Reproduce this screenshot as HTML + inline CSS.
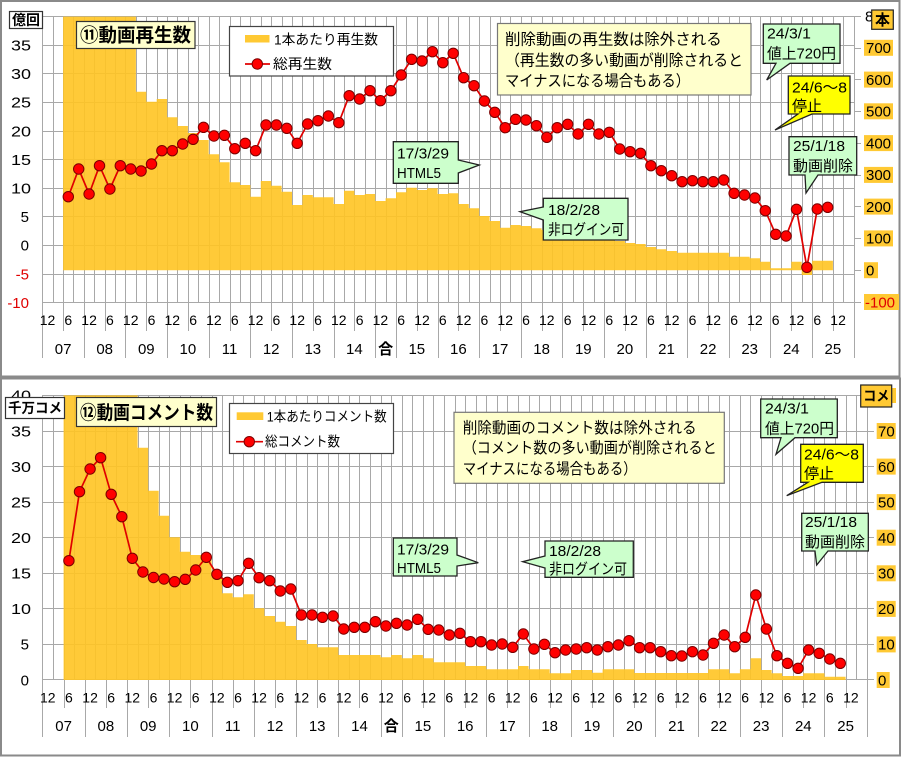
<!DOCTYPE html>
<html><head><meta charset="utf-8"><style>
html,body{margin:0;padding:0;background:#fff;}
svg{display:block;}
text{font-family:"Liberation Sans","Noto Sans CJK JP",sans-serif;}
</style></head><body>
<svg width="902" height="758" viewBox="0 0 902 758" xmlns="http://www.w3.org/2000/svg">
<defs>
<marker id="dot" markerWidth="14" markerHeight="14" refX="7" refY="7" markerUnits="userSpaceOnUse">
<circle cx="7" cy="7" r="5.2" fill="#ff0000" stroke="#7a0000" stroke-width="1"/>
</marker>
</defs>
<rect width="902" height="758" fill="#fff"/>

<!-- ================= TOP CHART ================= -->
<rect x="1" y="1" width="898.5" height="375.5" fill="#fff" stroke="#8a8a8a" stroke-width="2"/>

<!-- gridlines -->
<path fill="none" stroke="#a8a8a8" stroke-width="1" d="M42.5 16.5V302.5M53.5 16.5V302.5M63.5 16.5V302.5M73.5 16.5V302.5M84.5 16.5V302.5M94.5 16.5V302.5M105.5 16.5V302.5M115.5 16.5V302.5M125.5 16.5V302.5M136.5 16.5V302.5M146.5 16.5V302.5M157.5 16.5V302.5M167.5 16.5V302.5M177.5 16.5V302.5M188.5 16.5V302.5M198.5 16.5V302.5M209.5 16.5V302.5M219.5 16.5V302.5M230.5 16.5V302.5M240.5 16.5V302.5M250.5 16.5V302.5M261.5 16.5V302.5M271.5 16.5V302.5M282.5 16.5V302.5M292.5 16.5V302.5M302.5 16.5V302.5M313.5 16.5V302.5M323.5 16.5V302.5M334.5 16.5V302.5M344.5 16.5V302.5M354.5 16.5V302.5M365.5 16.5V302.5M375.5 16.5V302.5M386.5 16.5V302.5M396.5 16.5V302.5M406.5 16.5V302.5M417.5 16.5V302.5M427.5 16.5V302.5M438.5 16.5V302.5M448.5 16.5V302.5M458.5 16.5V302.5M469.5 16.5V302.5M479.5 16.5V302.5M490.5 16.5V302.5M500.5 16.5V302.5M510.5 16.5V302.5M521.5 16.5V302.5M531.5 16.5V302.5M542.5 16.5V302.5M552.5 16.5V302.5M562.5 16.5V302.5M573.5 16.5V302.5M583.5 16.5V302.5M594.5 16.5V302.5M604.5 16.5V302.5M614.5 16.5V302.5M625.5 16.5V302.5M635.5 16.5V302.5M646.5 16.5V302.5M656.5 16.5V302.5M666.5 16.5V302.5M677.5 16.5V302.5M687.5 16.5V302.5M698.5 16.5V302.5M708.5 16.5V302.5M718.5 16.5V302.5M729.5 16.5V302.5M739.5 16.5V302.5M750.5 16.5V302.5M760.5 16.5V302.5M770.5 16.5V302.5M781.5 16.5V302.5M791.5 16.5V302.5M802.5 16.5V302.5M812.5 16.5V302.5M822.5 16.5V302.5M833.5 16.5V302.5M843.5 16.5V302.5M854.5 16.5V302.5
M42 16.5H855M42 45.5H855M42 73.5H855M42 102.5H855M42 131.5H855M42 159.5H855M42 188.5H855M42 216.5H855M42 245.5H855M42 274.5H855M42 302.5H855
M854 16.5H861M854 48.5H861M854 79.5H861M854 111.5H861M854 143.5H861M854 175.5H861M854 206.5H861M854 238.5H861M854 270.5H861M854 302.5H861
M42.5 302.5V331M63.5 302.5V331M84.5 302.5V331M105.5 302.5V331M125.5 302.5V331M146.5 302.5V331M167.5 302.5V331M188.5 302.5V331M209.5 302.5V331M230.5 302.5V331M250.5 302.5V331M271.5 302.5V331M292.5 302.5V331M313.5 302.5V331M334.5 302.5V331M354.5 302.5V331M375.5 302.5V331M396.5 302.5V331M417.5 302.5V331M438.5 302.5V331M458.5 302.5V331M479.5 302.5V331M500.5 302.5V331M521.5 302.5V331M542.5 302.5V331M562.5 302.5V331M583.5 302.5V331M604.5 302.5V331M625.5 302.5V331M646.5 302.5V331M666.5 302.5V331M687.5 302.5V331M708.5 302.5V331M729.5 302.5V331M750.5 302.5V331M770.5 302.5V331M791.5 302.5V331M812.5 302.5V331M833.5 302.5V331M854.5 302.5V331
M42.5 331V358M84.5 331V358M125.5 331V358M167.5 331V358M209.5 331V358M250.5 331V358M292.5 331V358M334.5 331V358M375.5 331V358M396.5 331V358M438.5 331V358M479.5 331V358M521.5 331V358M562.5 331V358M604.5 331V358M646.5 331V358M687.5 331V358M729.5 331V358M770.5 331V358M812.5 331V358M854.5 331V358"/>

<!-- bars -->
<path fill="#ffc422" fill-opacity="0.9" d="M63.1 270.2V16.6H135.9V91.7H146.3V101.7H156.7V99H167.1V117.3H177.5V126H187.9V133H198.3V140H208.7V154.3H219.2V162.3H229.6V182.3H240V185H250.4V196.7H260.8V181H271.2V185.7H281.6V191.7H292V205H302.4V195H312.8V197.3H323.2V197.3H333.6V204H344V190.7H354.4V195H364.8V194H375.2V201H385.6V198.3H396V192.3H406.4V187.7H416.8V190H427.2V188.3H437.6V194H448V193.3H458.4V204H468.8V208.3H479.2V216H489.6V221H500V227.7H510.4V225H520.8V226H531.2V228.3H541.6V230H552V231H562.5V232H572.9V233H583.3V235H593.7V237H604.1V240H614.5V241H624.9V243H635.3V244H645.7V247H656.1V249.3H666.5V251H676.9V252.7H728.9V256.7H749.7V258.3H760.1V261.7H770.5V268.3H791.3V261.7H801.7V275H812.1V260.7H832.9V270.2Z"/>

<!-- line -->
<polyline fill="none" stroke="#e00000" stroke-width="1.7" marker-start="url(#dot)" marker-mid="url(#dot)" marker-end="url(#dot)" points="68.3,196.7 78.7,169 89.1,194 99.5,165.7 109.9,189 120.3,165.7 130.7,169 141.1,171 151.5,164 161.9,150.7 172.3,150.7 182.7,144 193.1,139.3 203.5,127.3 213.9,136 224.4,135.3 234.8,148.7 245.2,143.3 255.6,150.7 266,125 276.4,125 286.8,128.3 297.2,143.3 307.6,124 318,120.7 328.4,116 338.8,122.7 349.2,95.7 359.6,99 370,90.7 380.4,100.7 390.8,90.7 401.2,75 411.6,59.3 422,61 432.4,51.7 442.8,62.7 453.2,53.3 463.6,77.7 474,85.7 484.4,101 494.8,112.3 505.2,127.7 515.6,119.3 526,120 536.4,125.7 546.8,137.3 557.2,127.7 567.7,124.3 578.1,134 588.5,124.3 598.9,134 609.3,132.3 619.7,149 630.1,151.7 640.5,153.3 650.9,165.7 661.3,170.7 671.7,175.7 682.1,181.7 692.5,180.7 702.9,181.7 713.3,181.7 723.7,180 734.1,193.3 744.5,195 754.9,198 765.3,210.7 775.7,234.3 786.1,236 796.5,209.3 806.9,267.3 817.3,209 827.7,207.3"/>

<!-- left axis labels -->
<g font-size="15" text-anchor="end" fill="#000">
<text x="31" y="50.5" textLength="20" lengthAdjust="spacingAndGlyphs">35</text>
<text x="31" y="79.1" textLength="20" lengthAdjust="spacingAndGlyphs">30</text>
<text x="31" y="107.7" textLength="20" lengthAdjust="spacingAndGlyphs">25</text>
<text x="31" y="136.3" textLength="20" lengthAdjust="spacingAndGlyphs">20</text>
<text x="31" y="164.9" textLength="20" lengthAdjust="spacingAndGlyphs">15</text>
<text x="31" y="193.5" textLength="20" lengthAdjust="spacingAndGlyphs">10</text>
<text x="29" y="222.1">5</text>
<text x="29" y="250.7">0</text>
<text x="29" y="279.3" fill="#e00000">-5</text>
<text x="29" y="307.9" fill="#e00000">-10</text>
</g>

<!-- right axis labels -->
<g fill="#ffc933">
<rect x="864" y="39.8" width="29" height="16"/>
<rect x="864" y="71.6" width="29" height="16"/>
<rect x="864" y="103.3" width="29" height="16"/>
<rect x="864" y="135.1" width="29" height="16"/>
<rect x="864" y="166.9" width="29" height="16"/>
<rect x="864" y="198.6" width="29" height="16"/>
<rect x="864" y="230.4" width="29" height="16"/>
<rect x="864" y="262.2" width="14" height="16"/>
<rect x="864" y="294" width="35" height="16"/>
</g>
<g font-size="15" fill="#000">
<text x="865" y="21.5">8</text>
<text x="866" y="53.1">700</text>
<text x="866" y="84.9">600</text>
<text x="866" y="116.6">500</text>
<text x="866" y="148.4">400</text>
<text x="866" y="180.2">300</text>
<text x="866" y="211.9">200</text>
<text x="866" y="243.7">100</text>
<text x="866" y="275.5">0</text>
<text x="865" y="307.3" fill="#e00000">-100</text>
</g>
<rect x="871.7" y="10" width="21.6" height="19.3" fill="#ffc933" stroke="#222" stroke-width="1.2"/>
<text x="882.5" y="25" font-size="15" font-weight="bold" text-anchor="middle">本</text>

<!-- x axis labels -->
<g font-size="14" text-anchor="middle" fill="#000">
<text x="47.5" y="325">12</text><text x="68.3" y="325">6</text><text x="89.1" y="325">12</text><text x="109.9" y="325">6</text><text x="130.7" y="325">12</text><text x="151.5" y="325">6</text><text x="172.3" y="325">12</text><text x="193.1" y="325">6</text><text x="213.9" y="325">12</text><text x="234.8" y="325">6</text><text x="255.6" y="325">12</text><text x="276.4" y="325">6</text><text x="297.2" y="325">12</text><text x="318" y="325">6</text><text x="338.8" y="325">12</text><text x="359.6" y="325">6</text><text x="380.4" y="325">12</text><text x="401.2" y="325">6</text><text x="422" y="325">12</text><text x="442.8" y="325">6</text><text x="463.6" y="325">12</text><text x="484.4" y="325">6</text><text x="505.2" y="325">12</text><text x="526" y="325">6</text><text x="546.8" y="325">12</text><text x="567.7" y="325">6</text><text x="588.5" y="325">12</text><text x="609.3" y="325">6</text><text x="630.1" y="325">12</text><text x="650.9" y="325">6</text><text x="671.7" y="325">12</text><text x="692.5" y="325">6</text><text x="713.3" y="325">12</text><text x="734.1" y="325">6</text><text x="754.9" y="325">12</text><text x="775.7" y="325">6</text><text x="796.5" y="325">12</text><text x="817.3" y="325">6</text><text x="838.1" y="325">12</text>
</g>
<g font-size="15" text-anchor="middle" fill="#000">
<text x="63.1" y="354">07</text><text x="104.7" y="354">08</text><text x="146.3" y="354">09</text><text x="187.9" y="354">10</text><text x="229.6" y="354">11</text><text x="271.2" y="354">12</text><text x="312.8" y="354">13</text><text x="354.4" y="354">14</text><text x="385.6" y="354" font-weight="bold">合</text><text x="416.8" y="354">15</text><text x="458.4" y="354">16</text><text x="500" y="354">17</text><text x="541.6" y="354">18</text><text x="583.3" y="354">19</text><text x="624.9" y="354">20</text><text x="666.5" y="354">21</text><text x="708.1" y="354">22</text><text x="749.7" y="354">23</text><text x="791.3" y="354">24</text><text x="832.9" y="354">25</text>
</g>

<!-- unit box -->
<rect x="9.5" y="11.5" width="33" height="17" fill="#fff" stroke="#333" stroke-width="1.2"/>
<text x="26" y="25" font-size="14" font-weight="bold" text-anchor="middle" textLength="28" lengthAdjust="spacingAndGlyphs">億回</text>

<!-- title -->
<rect x="76.5" y="21.5" width="118.5" height="27" fill="#ffffcc" stroke="#333" stroke-width="1.2"/>
<text x="80" y="41.5" font-size="19" font-weight="bold" textLength="111" lengthAdjust="spacingAndGlyphs">⑪動画再生数</text>

<!-- legend -->
<rect x="229.5" y="26.5" width="164" height="49.5" fill="#fff" stroke="#444" stroke-width="1.2"/>
<rect x="245" y="35" width="24.5" height="7.5" fill="#ffc933"/>
<text x="274" y="44.5" font-size="14" textLength="104" lengthAdjust="spacingAndGlyphs">1本あたり再生数</text>
<line x1="245" y1="64" x2="270" y2="64" stroke="#e00000" stroke-width="1.7"/>
<circle cx="257.3" cy="64" r="5.2" fill="#ff0000" stroke="#7a0000" stroke-width="1"/>
<text x="273" y="69" font-size="14" textLength="59" lengthAdjust="spacingAndGlyphs">総再生数</text>

<!-- note -->
<rect x="497.5" y="23.5" width="253.5" height="71.5" fill="#ffffcc" stroke="#777" stroke-width="1.2"/>
<g font-size="15.5" fill="#000">
<text x="505" y="44.5" textLength="216.7" lengthAdjust="spacingAndGlyphs">削除動画の再生数は除外される</text>
<text x="505" y="65.5" textLength="238" lengthAdjust="spacingAndGlyphs">（再生数の多い動画が削除されると</text>
<text x="505" y="86" textLength="185" lengthAdjust="spacingAndGlyphs">マイナスになる場合もある）</text>
</g>

<!-- callouts top -->
<g stroke="#222" stroke-width="1.3">
<path fill="#ccffcc" d="M763.3 24H840V63.3H790L766.7 80L776 63.3H763.3Z"/>
<path fill="#ffff00" d="M788.3 76H850V114H812L775 130L798 114H788.3Z"/>
<path fill="#ccffcc" d="M789 136.7H856.7V175H818L806 193L805 175H789Z"/>
<path fill="#ccffcc" d="M393.3 141.7H458.3V160L479.3 165L458.3 173V183.3H393.3Z"/>
<path fill="#ccffcc" d="M543.3 198.3H628V240H543.3V220L520 211.7L543.3 207Z"/>
</g>
<g font-size="15" fill="#000">
<text x="767" y="38.5" textLength="44" lengthAdjust="spacingAndGlyphs">24/3/1</text>
<text x="767" y="58.5" textLength="69" lengthAdjust="spacingAndGlyphs">値上720円</text>
<text x="792" y="92.5" textLength="55" lengthAdjust="spacingAndGlyphs">24/6～8</text>
<text x="792" y="111" textLength="30" lengthAdjust="spacingAndGlyphs">停止</text>
<text x="793" y="151" textLength="52" lengthAdjust="spacingAndGlyphs">25/1/18</text>
<text x="793" y="171" textLength="60" lengthAdjust="spacingAndGlyphs">動画削除</text>
<text x="397" y="158.5" textLength="52" lengthAdjust="spacingAndGlyphs">17/3/29</text>
<text x="397" y="178" textLength="44" lengthAdjust="spacingAndGlyphs">HTML5</text>
<text x="548" y="215" textLength="52" lengthAdjust="spacingAndGlyphs">18/2/28</text>
<text x="548" y="234.5" textLength="76" lengthAdjust="spacingAndGlyphs">非ログイン可</text>
</g>

<!-- ================= BOTTOM CHART ================= -->
<rect x="1" y="378.5" width="899" height="377" fill="#fff" stroke="#8a8a8a" stroke-width="2"/>

<path fill="none" stroke="#a8a8a8" stroke-width="1" d="M42.5 395.5V680M53.5 395.5V680M64.5 395.5V680M74.5 395.5V680M85.5 395.5V680M95.5 395.5V680M106.5 395.5V680M116.5 395.5V680M127.5 395.5V680M138.5 395.5V680M148.5 395.5V680M159.5 395.5V680M169.5 395.5V680M180.5 395.5V680M190.5 395.5V680M201.5 395.5V680M212.5 395.5V680M222.5 395.5V680M233.5 395.5V680M243.5 395.5V680M254.5 395.5V680M264.5 395.5V680M275.5 395.5V680M285.5 395.5V680M296.5 395.5V680M307.5 395.5V680M317.5 395.5V680M328.5 395.5V680M338.5 395.5V680M349.5 395.5V680M359.5 395.5V680M370.5 395.5V680M381.5 395.5V680M391.5 395.5V680M402.5 395.5V680M412.5 395.5V680M423.5 395.5V680M433.5 395.5V680M444.5 395.5V680M455.5 395.5V680M465.5 395.5V680M476.5 395.5V680M486.5 395.5V680M497.5 395.5V680M507.5 395.5V680M518.5 395.5V680M529.5 395.5V680M539.5 395.5V680M550.5 395.5V680M560.5 395.5V680M571.5 395.5V680M581.5 395.5V680M592.5 395.5V680M603.5 395.5V680M613.5 395.5V680M624.5 395.5V680M634.5 395.5V680M645.5 395.5V680M655.5 395.5V680M666.5 395.5V680M676.5 395.5V680M687.5 395.5V680M698.5 395.5V680M708.5 395.5V680M719.5 395.5V680M729.5 395.5V680M740.5 395.5V680M750.5 395.5V680M761.5 395.5V680M772.5 395.5V680M782.5 395.5V680M793.5 395.5V680M803.5 395.5V680M814.5 395.5V680M824.5 395.5V680M835.5 395.5V680M846.5 395.5V680M856.5 395.5V680M867.5 395.5V680
M42 395.5H868M42 431.5H868M42 466.5H868M42 502.5H868M42 537.5H868M42 573.5H868M42 608.5H868M42 644.5H868M42 679.5H868
M867 395.5H874M867 431.5H874M867 466.5H874M867 502.5H874M867 537.5H874M867 573.5H874M867 608.5H874M867 644.5H874M867 679.5H874
M42.5 680V708M64.5 680V708M85.5 680V708M106.5 680V708M127.5 680V708M148.5 680V708M169.5 680V708M190.5 680V708M212.5 680V708M233.5 680V708M254.5 680V708M275.5 680V708M296.5 680V708M317.5 680V708M338.5 680V708M359.5 680V708M381.5 680V708M402.5 680V708M423.5 680V708M444.5 680V708M465.5 680V708M486.5 680V708M507.5 680V708M529.5 680V708M550.5 680V708M571.5 680V708M592.5 680V708M613.5 680V708M634.5 680V708M655.5 680V708M676.5 680V708M698.5 680V708M719.5 680V708M740.5 680V708M761.5 680V708M782.5 680V708M803.5 680V708M824.5 680V708M846.5 680V708M867.5 680V708
M42.5 708V737M85.5 708V737M127.5 708V737M169.5 708V737M212.5 708V737M254.5 708V737M296.5 708V737M338.5 708V737M381.5 708V737M402.5 708V737M444.5 708V737M486.5 708V737M529.5 708V737M571.5 708V737M613.5 708V737M655.5 708V737M698.5 708V737M740.5 708V737M782.5 708V737M824.5 708V737M867.5 708V737"/>

<path fill="#ffc422" fill-opacity="0.9" d="M63.6 680V395.4H137.6V447.7H148.2V490.7H158.7V515.7H169.3V537.3H179.9V551.7H190.4V555H211.6V577H222.1V593.3H232.7V597.3H243.3V594.3H253.8V608.3H264.4V616H275V621.7H285.5V626H296.1V640H306.7V644H317.2V647.3H338.4V655H380.6V657.3H391.2V655H401.8V658.3H412.3V655H422.9V658.3H433.5V662.3H465.2V666H486.3V669.3H518V666H528.6V669.3H549.7V673.3H570.9V670H592V672.7H602.6V669.3H634.3V673H708.2V669.3H729.4V673.3H739.9V669.3H750.5V658.3H761.1V670H771.6V673.3H782.2V676H803.3V673.3H824.5V676.7H845.6V680Z"/>

<polyline fill="none" stroke="#e00000" stroke-width="1.7" marker-start="url(#dot)" marker-mid="url(#dot)" marker-end="url(#dot)" points="68.9,560.7 79.5,491.7 90.1,469 100.6,457.7 111.2,494.3 121.8,516.7 132.3,558.3 142.9,572 153.5,577.5 164,579 174.6,581.7 185.2,579.3 195.7,570 206.3,557.3 216.9,574.3 227.4,582.3 238,580.7 248.6,563.3 259.1,577.7 269.7,580.7 280.3,591 290.8,589 301.4,615 312,615 322.5,617.3 333.1,616 343.7,629 354.2,627.3 364.8,627.3 375.4,621.7 385.9,626 396.5,623.3 407.1,625 417.6,619.3 428.2,629.3 438.8,630 449.3,635 459.9,633.3 470.5,641.7 481,641.7 491.6,645 502.2,644 512.7,647.3 523.3,634 533.9,649 544.4,644.3 555,652.7 565.6,650 576.2,649 586.7,647.7 597.3,650 607.9,646.7 618.4,645 629,640.7 639.6,647.7 650.1,647.7 660.7,651.7 671.3,655.7 681.8,656 692.4,651.7 703,655 713.5,643.3 724.1,635 734.7,646.7 745.2,637.3 755.8,595 766.4,629 776.9,655.7 787.5,663.3 798.1,668.3 808.6,650 819.2,653.3 829.8,659 840.3,663.3"/>

<g font-size="15" text-anchor="end" fill="#000">
<text x="31" y="400.7" textLength="20" lengthAdjust="spacingAndGlyphs">40</text>
<text x="31" y="436.3" textLength="20" lengthAdjust="spacingAndGlyphs">35</text>
<text x="31" y="471.8" textLength="20" lengthAdjust="spacingAndGlyphs">30</text>
<text x="31" y="507.4" textLength="20" lengthAdjust="spacingAndGlyphs">25</text>
<text x="31" y="543" textLength="20" lengthAdjust="spacingAndGlyphs">20</text>
<text x="31" y="578.6" textLength="20" lengthAdjust="spacingAndGlyphs">15</text>
<text x="31" y="614.1" textLength="20" lengthAdjust="spacingAndGlyphs">10</text>
<text x="29" y="649.7">5</text>
<text x="29" y="685.3">0</text>
</g>

<g fill="#ffc933">
<rect x="877" y="388" width="19" height="15"/>
<rect x="876.7" y="423" width="19" height="16"/>
<rect x="876.7" y="458.6" width="19" height="16"/>
<rect x="876.7" y="494.1" width="19" height="16"/>
<rect x="876.7" y="529.7" width="19" height="16"/>
<rect x="876.7" y="565.3" width="19" height="16"/>
<rect x="876.7" y="600.9" width="19" height="16"/>
<rect x="876.7" y="636.4" width="19" height="16"/>
<rect x="876.7" y="672" width="13" height="16"/>
</g>
<g font-size="15" fill="#000">
<text x="878" y="436.3">70</text>
<text x="878" y="471.9">60</text>
<text x="878" y="507.4">50</text>
<text x="878" y="543">40</text>
<text x="878" y="578.6">30</text>
<text x="878" y="614.2">20</text>
<text x="878" y="649.7">10</text>
<text x="878" y="685.3">0</text>
</g>
<rect x="860.7" y="385" width="31" height="22" fill="#ffc933" stroke="#222" stroke-width="1.2"/>
<text x="876.2" y="401" font-size="14" font-weight="bold" text-anchor="middle" textLength="26" lengthAdjust="spacingAndGlyphs">コメ</text>

<g font-size="14" text-anchor="middle" fill="#000">
<text x="47.8" y="702.5">12</text><text x="68.9" y="702.5">6</text><text x="90.1" y="702.5">12</text><text x="111.2" y="702.5">6</text><text x="132.3" y="702.5">12</text><text x="153.5" y="702.5">6</text><text x="174.6" y="702.5">12</text><text x="195.7" y="702.5">6</text><text x="216.9" y="702.5">12</text><text x="238" y="702.5">6</text><text x="259.1" y="702.5">12</text><text x="280.3" y="702.5">6</text><text x="301.4" y="702.5">12</text><text x="322.5" y="702.5">6</text><text x="343.7" y="702.5">12</text><text x="364.8" y="702.5">6</text><text x="385.9" y="702.5">12</text><text x="407.1" y="702.5">6</text><text x="428.2" y="702.5">12</text><text x="449.3" y="702.5">6</text><text x="470.5" y="702.5">12</text><text x="491.6" y="702.5">6</text><text x="512.7" y="702.5">12</text><text x="533.9" y="702.5">6</text><text x="555" y="702.5">12</text><text x="576.2" y="702.5">6</text><text x="597.3" y="702.5">12</text><text x="618.4" y="702.5">6</text><text x="639.6" y="702.5">12</text><text x="660.7" y="702.5">6</text><text x="681.8" y="702.5">12</text><text x="703" y="702.5">6</text><text x="724.1" y="702.5">12</text><text x="745.2" y="702.5">6</text><text x="766.4" y="702.5">12</text><text x="787.5" y="702.5">6</text><text x="808.6" y="702.5">12</text><text x="829.8" y="702.5">6</text><text x="850.9" y="702.5">12</text>
</g>
<g font-size="15" text-anchor="middle" fill="#000">
<text x="63.6" y="731">07</text><text x="105.9" y="731">08</text><text x="148.2" y="731">09</text><text x="190.4" y="731">10</text><text x="232.7" y="731">11</text><text x="275" y="731">12</text><text x="317.2" y="731">13</text><text x="359.5" y="731">14</text><text x="391.2" y="731" font-weight="bold">合</text><text x="422.9" y="731">15</text><text x="465.2" y="731">16</text><text x="507.4" y="731">17</text><text x="549.7" y="731">18</text><text x="592" y="731">19</text><text x="634.3" y="731">20</text><text x="676.5" y="731">21</text><text x="718.8" y="731">22</text><text x="761.1" y="731">23</text><text x="803.3" y="731">24</text><text x="845.6" y="731">25</text>
</g>

<rect x="5.5" y="397.5" width="59" height="21" fill="#fff" stroke="#333" stroke-width="1.2"/>
<text x="35" y="413" font-size="14" font-weight="bold" text-anchor="middle" textLength="54" lengthAdjust="spacingAndGlyphs">千万コメ</text>

<rect x="76.5" y="397.5" width="140" height="29" fill="#ffffcc" stroke="#333" stroke-width="1.2"/>
<text x="80" y="419" font-size="19" font-weight="bold" textLength="133" lengthAdjust="spacingAndGlyphs">⑫動画コメント数</text>

<rect x="229.5" y="403.5" width="164" height="50" fill="#fff" stroke="#444" stroke-width="1.2"/>
<rect x="236.7" y="412.3" width="26.6" height="7.7" fill="#ffc933"/>
<text x="266.7" y="421.7" font-size="14" textLength="120" lengthAdjust="spacingAndGlyphs">1本あたりコメント数</text>
<line x1="236" y1="441.7" x2="263" y2="441.7" stroke="#e00000" stroke-width="1.7"/>
<circle cx="249.3" cy="441.7" r="5.2" fill="#ff0000" stroke="#7a0000" stroke-width="1"/>
<text x="265" y="446.7" font-size="14" textLength="75" lengthAdjust="spacingAndGlyphs">総コメント数</text>

<rect x="454" y="412.3" width="270.3" height="71" fill="#ffffcc" stroke="#777" stroke-width="1.2"/>
<g font-size="15.5" fill="#000">
<text x="462.7" y="432.8" textLength="234" lengthAdjust="spacingAndGlyphs">削除動画のコメント数は除外される</text>
<text x="462.7" y="453.2" textLength="254" lengthAdjust="spacingAndGlyphs">（コメント数の多い動画が削除されると</text>
<text x="462.7" y="473.8" textLength="174" lengthAdjust="spacingAndGlyphs">マイナスになる場合もある）</text>
</g>

<g stroke="#222" stroke-width="1.3">
<path fill="#ccffcc" d="M760.7 399H837.3V437.7H795L776 454.3L781 437.7H760.7Z"/>
<path fill="#ffff00" d="M800.7 444.3H863.3V482.3H822L786.7 495.7L808 482.3H800.7Z"/>
<path fill="#ccffcc" d="M801.7 513.3H868.3V551H828L816.7 565L815 551H801.7Z"/>
<path fill="#ccffcc" d="M393.3 538H457V555L478.3 562.7L457 566V576H393.3Z"/>
<path fill="#ccffcc" d="M545 541H633.3V577.3H545V568L522.7 561.7L545 556Z"/>
</g>
<g font-size="15" fill="#000">
<text x="765" y="413.5" textLength="44" lengthAdjust="spacingAndGlyphs">24/3/1</text>
<text x="765" y="433.5" textLength="69" lengthAdjust="spacingAndGlyphs">値上720円</text>
<text x="804" y="459.5" textLength="55" lengthAdjust="spacingAndGlyphs">24/6～8</text>
<text x="804" y="478.5" textLength="30" lengthAdjust="spacingAndGlyphs">停止</text>
<text x="805" y="527" textLength="52" lengthAdjust="spacingAndGlyphs">25/1/18</text>
<text x="805" y="547" textLength="60" lengthAdjust="spacingAndGlyphs">動画削除</text>
<text x="397" y="554.5" textLength="52" lengthAdjust="spacingAndGlyphs">17/3/29</text>
<text x="397" y="573" textLength="44" lengthAdjust="spacingAndGlyphs">HTML5</text>
<text x="549" y="556" textLength="52" lengthAdjust="spacingAndGlyphs">18/2/28</text>
<text x="549" y="574" textLength="78" lengthAdjust="spacingAndGlyphs">非ログイン可</text>
</g>
</svg>
</body></html>
